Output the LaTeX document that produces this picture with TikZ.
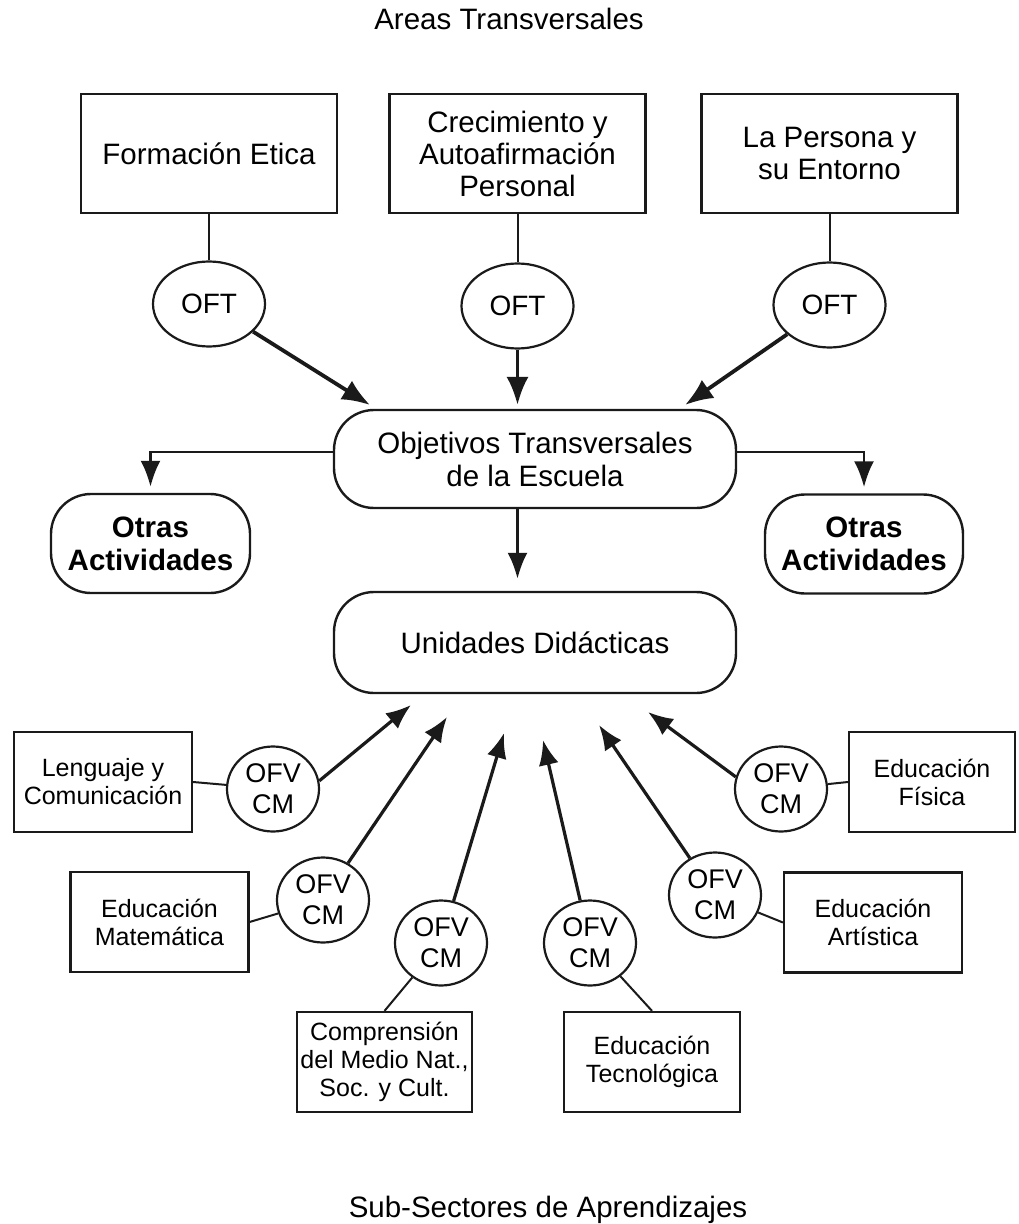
\documentclass[tikz,border=0pt]{standalone}
\usepackage{fontspec}
\setmainfont{Liberation Sans}
\usetikzlibrary{arrows.meta,shapes.geometric}
\definecolor{vblack}{HTML}{1a1a1a}

\begin{document}
\begin{tikzpicture}[x=0.5pt, y=-0.5pt,
		areabox/.style={draw=vblack, line width=1.2pt, minimum width=128pt, minimum height=59.5pt, inner sep=0pt, align=center, font=\fontsize{14.75}{16}\selectfont},
		roundbox/.style={draw=vblack, line width=1.2pt, rounded corners=20pt, inner sep=0pt, align=center, font=\fontsize{14.75}{16.5}\selectfont},
		oftnode/.style={ellipse, draw=vblack, line width=1.1pt, minimum width=56pt, minimum height=42.5pt, inner sep=0pt, font=\fontsize{14}{16}\selectfont},
		ofvnode/.style={ellipse, draw=vblack, line width=1.1pt, minimum width=46pt, minimum height=42.5pt, inner sep=0pt, align=center, font=\fontsize{13.5}{15.5}\selectfont},
		sectorbox/.style={draw=vblack, line width=1.1pt, minimum width=89pt, minimum height=50pt, inner sep=0pt, align=center, font=\fontsize{12.5}{14}\selectfont},
		conector/.style={draw=vblack, line width=1pt},
		thickarrow/.style={draw=vblack, line width=1.9pt, -{Latex[length=14pt, width=11pt]}},
		thinarrow/.style={draw=vblack, line width=1.4pt, -{Latex[length=13pt, width=10pt]}},
		uparrow/.style={draw=vblack, line width=1.6pt, -{Latex[length=12.5pt, width=10pt]}}
	]
		\useasboundingbox (0,0) rectangle (1018,1224);
		% titulos
		\node[font=\fontsize{14.75}{16}\selectfont] (areas) at (509,19) {Areas Transversales};
		\node[font=\fontsize{14.75}{16}\selectfont] (subsectores) at (548,1210) {Sub-Sectores de Aprendizajes};
		% areas transversales
		\node[areabox] (etica) at (209,153.5) {Formación Etica};
		\node[areabox] (crecimiento) at (517.5,153.5) {Crecimiento y\\Autoafirmación\\Personal};
		\node[areabox] (persona) at (829.5,153.5) {La Persona y\\su Entorno};
		\node[oftnode] (oft1) at (209,304) {OFT};
		\node[oftnode] (oft2) at (517.5,306) {OFT};
		\node[oftnode] (oft3) at (829.5,305) {OFT};
		\coordinate (p1) at (370,405);
		\coordinate (p2) at (517.5,405);
		\coordinate (p3) at (685,405);
		% objetivos y unidades
		\node[roundbox, minimum width=201pt, minimum height=49pt] (objetivos) at (535,459) {Objetivos Transversales\\de la Escuela};
		\node[roundbox, minimum width=99.5pt, minimum height=49.5pt, font=\fontsize{14.75}{16.5}\selectfont\bfseries] (otras1) at (150.5,543.5) {Otras\\Actividades};
		\node[roundbox, minimum width=99pt, minimum height=49.5pt, font=\fontsize{14.75}{16.5}\selectfont\bfseries] (otras2) at (864,544) {Otras\\Actividades};
		\node[roundbox, minimum width=201pt, minimum height=50.5pt] (unidades) at (535,642.5) {Unidades Didácticas};
		% sub-sectores
		\node[sectorbox] (lenguaje) at (103,782) {Lenguaje y\\Comunicación};
		\node[sectorbox] (matematica) at (159.5,922) {Educación\\Matemática};
		\node[sectorbox, minimum width=87.5pt] (comprension) at (384.5,1062) {Comprensión\\del Medio Nat.,\\Soc. y Cult.};
		\node[sectorbox, minimum width=88pt] (tecnologica) at (652,1062) {Educación\\Tecnológica};
		\node[sectorbox] (artistica) at (873,922.5) {Educación\\Artística};
		\node[sectorbox, minimum width=83pt] (fisica) at (932,782) {Educación\\Física};
		\node[ofvnode] (ofv1) at (273,789) {OFV\\CM};
		\node[ofvnode] (ofv2) at (323,900) {OFV\\CM};
		\node[ofvnode] (ofv3) at (441,943) {OFV\\CM};
		\node[ofvnode] (ofv4) at (590,943) {OFV\\CM};
		\node[ofvnode] (ofv5) at (715,895) {OFV\\CM};
		\node[ofvnode] (ofv6) at (781,789) {OFV\\CM};
		\coordinate (q1) at (411,705);
		\coordinate (q2) at (447,717);
		\coordinate (q3) at (504,733);
		\coordinate (q4) at (543,740);
		\coordinate (q5) at (599,725);
		\coordinate (q6) at (648,712);
		% conectores superiores
		\draw[conector] (etica) -- (oft1);
		\draw[conector] (crecimiento) -- (oft2);
		\draw[conector] (persona) -- (oft3);
		\draw[thickarrow] (oft1) -- (p1);
		\draw[thickarrow] (oft2) -- (p2);
		\draw[thickarrow] (oft3) -- (p3);
		\draw[thinarrow, shorten >=3pt] ([yshift=3.5pt]objetivos.west) -| (otras1);
		\draw[thinarrow, shorten >=3pt] ([yshift=3.5pt]objetivos.east) -| (otras2);
		\draw[thinarrow, shorten >=6pt] (objetivos.south -| oft2) -- (unidades.north -| oft2);
		% conectores inferiores
		\draw[conector] (lenguaje.east) -- (ofv1);
		\draw[conector] (matematica.east) -- (ofv2);
		\draw[conector] (comprension.north) -- (ofv3);
		\draw[conector] (tecnologica.north) -- (ofv4);
		\draw[conector] (artistica.west) -- (ofv5);
		\draw[conector] (fisica.west) -- (ofv6);
		\draw[uparrow] (ofv1.10) -- (q1);
		\draw[uparrow] (ofv2) -- (q2);
		\draw[uparrow] (ofv3) -- (q3);
		\draw[uparrow] (ofv4) -- (q4);
		\draw[uparrow] (ofv5) -- (q5);
		\draw[uparrow] (ofv6.165) -- (q6);
	\end{tikzpicture}
\end{document}
